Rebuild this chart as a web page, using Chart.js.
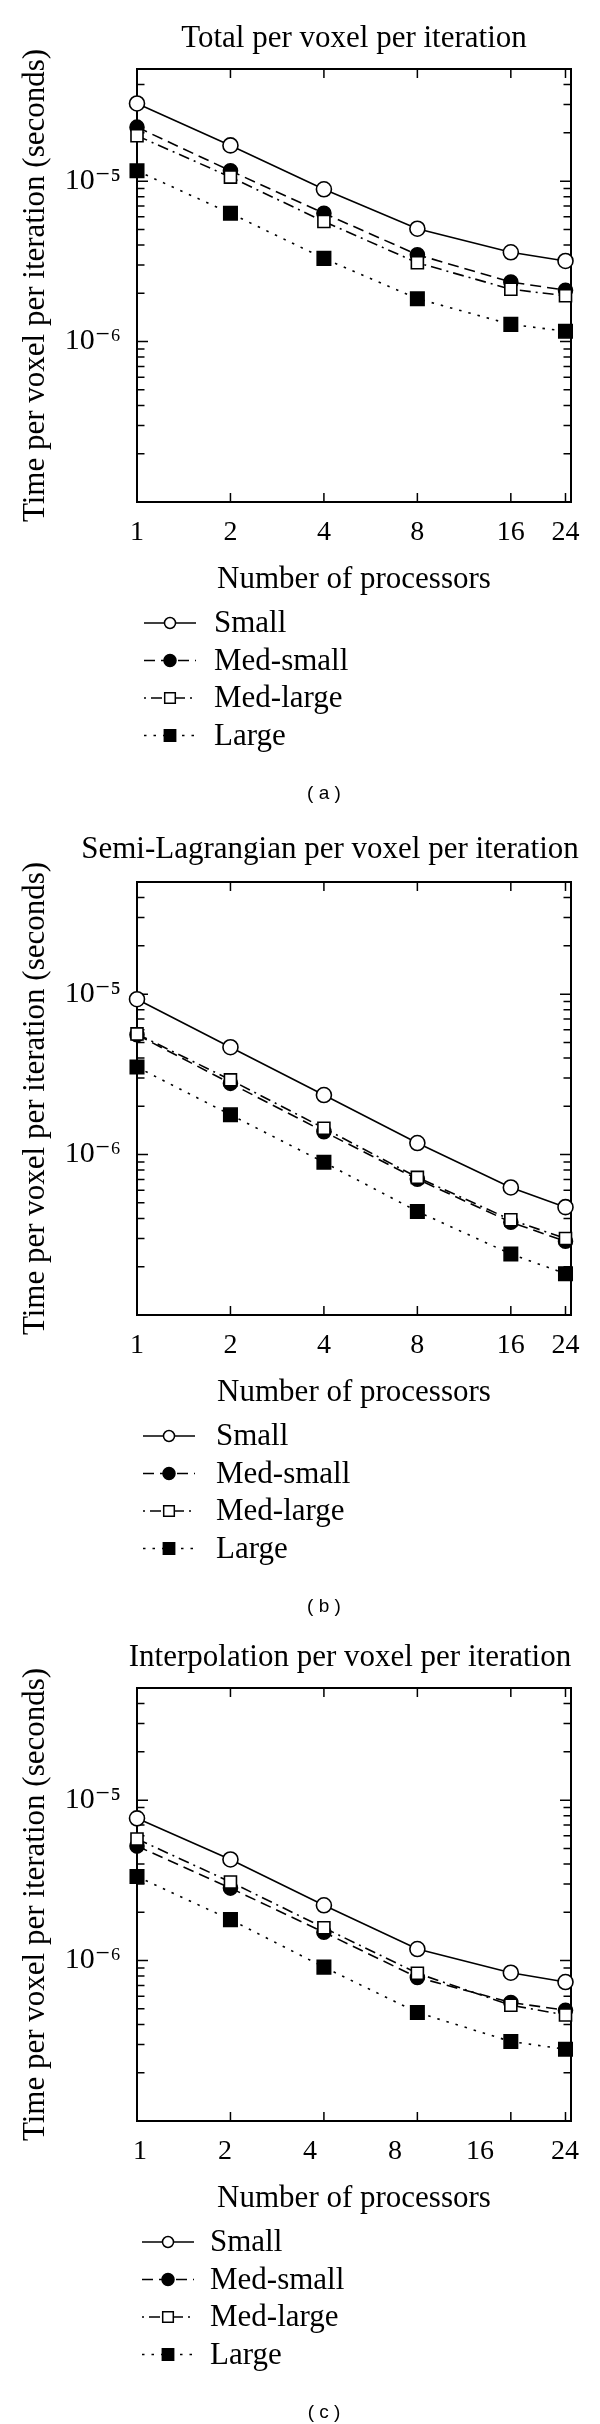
<!DOCTYPE html>
<html><head><meta charset="utf-8">
<script src="https://cdn.jsdelivr.net/npm/chart.js@4.4.1/dist/chart.umd.min.js"></script>
<style>
html,body{margin:0;padding:0;background:#fff;}
body{width:600px;height:2424px;position:relative;overflow:hidden;font-family:"Liberation Serif","DejaVu Serif",serif;color:#000;}
.panel{position:absolute;left:0;width:600px;height:805px;}
.panel canvas{position:absolute;left:0;top:0;}
.ttl{position:absolute;top:21px;font-size:31px;line-height:31px;white-space:nowrap;transform:translateX(-50%);}
.cap{position:absolute;font-family:"Liberation Sans",Arial,sans-serif;font-size:19px;line-height:19px;white-space:pre;transform:translate(-50%,-50%);}
</style></head>
<body>
<div class="panel" style="top:0px"><canvas id="ca" width="600" height="805"></canvas>
  <div class="ttl" style="left:354px">Total per voxel per iteration</div>
  <div class="cap" style="left:324px;top:792px">( a )</div></div>
<div class="panel" style="top:813px"><canvas id="cb" width="600" height="805"></canvas>
  <div class="ttl" style="left:330px;top:19px">Semi-Lagrangian per voxel per iteration</div>
  <div class="cap" style="left:324px;top:792px">( b )</div></div>
<div class="panel" style="top:1619px"><canvas id="cc" width="600" height="805"></canvas>
  <div class="ttl" style="left:350px">Interpolation per voxel per iteration</div>
  <div class="cap" style="left:324px;top:792px">( c )</div></div>
<script>
// ---------- data ----------
const procs = [1, 2, 4, 8, 16, 24];
const xTickLabels = ['1', '2', '4', '8', '16', '24'];
const yMajor = [1e-6, 1e-5];
const yMajorLabels = ['10\u207B\u2076', '10\u207B\u2075'];
const seriesNames = ['Small', 'Med-small', 'Med-large', 'Large'];

// (a) Total per voxel per iteration
const totalSmall    = [3.05e-5, 1.67e-5, 8.9e-6, 5.05e-6, 3.6e-6, 3.18e-6];
const totalMedSmall = [2.17e-5, 1.16e-5, 6.3e-6, 3.48e-6, 2.35e-6, 2.09e-6];
const totalMedLarge = [1.92e-5, 1.06e-5, 5.6e-6, 3.1e-6, 2.12e-6, 1.93e-6];
const totalLarge    = [1.16e-5, 6.3e-6, 3.3e-6, 1.85e-6, 1.28e-6, 1.16e-6];

// (b) Semi-Lagrangian per voxel per iteration
const slSmall    = [9.3e-6, 4.67e-6, 2.35e-6, 1.18e-6, 6.24e-7, 4.7e-7];
const slMedSmall = [5.58e-6, 2.78e-6, 1.39e-6, 7.03e-7, 3.79e-7, 2.88e-7];
const slMedLarge = [5.65e-6, 2.92e-6, 1.46e-6, 7.21e-7, 3.92e-7, 3.0e-7];
const slLarge    = [3.51e-6, 1.77e-6, 8.95e-7, 4.42e-7, 2.4e-7, 1.81e-7];

// (c) Interpolation per voxel per iteration
const inSmall    = [7.7e-6, 4.27e-6, 2.21e-6, 1.18e-6, 8.4e-7, 7.35e-7];
const inMedSmall = [5.17e-6, 2.83e-6, 1.5e-6, 7.85e-7, 5.48e-7, 4.9e-7];
const inMedLarge = [5.73e-6, 3.09e-6, 1.6e-6, 8.33e-7, 5.27e-7, 4.58e-7];
const inLarge    = [3.34e-6, 1.8e-6, 9.1e-7, 4.75e-7, 3.13e-7, 2.8e-7];

// ---------- styles ----------
const FAMILY = '"Liberation Serif", "DejaVu Serif", serif';
const styles = [
  {dash: [], dashOffset: 0, pt: 'circle', r: 7.5, fill: '#fff', lr: 5.5, order: 1},
  {dash: [11, 6], dashOffset: 0, pt: 'circle', r: 7, fill: '#000', lr: 6, order: 3},
  {dash: [11, 5, 2, 5], dashOffset: 16, pt: 'rect', r: 8.5, fill: '#fff', lr: 7.5, order: 2},
  {dash: [2.5, 7], dashOffset: 0, pt: 'rect', r: 9.5, fill: '#000', lr: 8, order: 4}
];
const Y_MIN = 1e-7, Y_MAX = 5e-5;
const yMinor = [];
for (let e = -7; e <= -5; e++) {
  for (let n = 1; n <= 9; n++) {
    const v = Number((n * Math.pow(10, e)).toPrecision(3));
    if (v >= Y_MIN && v <= Y_MAX) yMinor.push({v: v, major: n === 1});
  }
}

const framePlugin = {
  id: 'frameTicks',
  beforeDatasetsDraw(chart) {
    const {ctx, chartArea: a, scales} = chart;
    const xs = scales.x, ys = scales.y;
    ctx.save();
    ctx.strokeStyle = '#000';
    ctx.lineWidth = 1.5;
    ctx.beginPath();
    procs.forEach(v => {
      const px = xs.getPixelForValue(v);
      ctx.moveTo(px, a.bottom); ctx.lineTo(px, a.bottom - 9);
      ctx.moveTo(px, a.top); ctx.lineTo(px, a.top + 9);
    });
    yMinor.forEach(t => {
      const py = ys.getPixelForValue(t.v);
      const L = t.major ? 11 : 7.5;
      ctx.moveTo(a.left, py); ctx.lineTo(a.left + L, py);
      ctx.moveTo(a.right, py); ctx.lineTo(a.right - L, py);
    });
    ctx.stroke();
    ctx.lineWidth = 2;
    ctx.strokeRect(a.left, a.top, a.right - a.left, a.bottom - a.top);
    ctx.restore();
  }
};

const legendPlugin = {
  id: 'stackLegend',
  afterDraw(chart, args, o) {
    const ctx = chart.ctx;
    ctx.save();
    chart.data.datasets.forEach((ds, i) => {
      const st = styles[i];
      const y = o.top + i * o.gap;
      ctx.strokeStyle = '#000';
      ctx.lineWidth = ds.borderWidth;
      ctx.setLineDash(ds.borderDash);
      ctx.lineDashOffset = st.dashOffset;
      ctx.beginPath(); ctx.moveTo(o.x0, y); ctx.lineTo(o.x1, y); ctx.stroke();
      ctx.setLineDash([]);
      ctx.fillStyle = ds.pointBackgroundColor;
      ctx.strokeStyle = '#000';
      ctx.lineWidth = 1.5;
      Chart.helpers.drawPoint(ctx, {pointStyle: ds.pointStyle, radius: st.lr, borderWidth: 1.5, rotation: 0}, (o.x0 + o.x1) / 2, y);
      ctx.fillStyle = '#000';
      ctx.font = '31px ' + FAMILY;
      ctx.textBaseline = 'middle';
      ctx.textAlign = 'left';
      ctx.fillText(ds.label, o.textX, y + 1);
    });
    ctx.restore();
  }
};

function makeChart(id, series, cfg) {
  const datasets = seriesNames.map((name, i) => ({
    label: name,
    data: procs.map((p, j) => ({x: p, y: series[i][j]})),
    borderColor: '#000',
    borderWidth: 1.6,
    borderDash: styles[i].dash,
    pointStyle: styles[i].pt,
    pointRadius: styles[i].r,
    pointBackgroundColor: styles[i].fill,
    pointBorderColor: '#000',
    pointBorderWidth: 1.6,
    tension: 0,
    fill: false,
    clip: false,
    order: styles[i].order
  }));
  const tickFont = {family: FAMILY, size: 28};
  const yTickFont = {family: FAMILY, size: 30};
  const labelFont = {family: FAMILY, size: 31};
  const xTitle = {display: true, text: 'Number of processors', font: labelFont, color: '#000', padding: {top: 0, bottom: 1}};
  const scales = {
    x: {
      type: 'logarithmic', min: 1, max: 25, position: 'bottom',
      display: !cfg.evenLabels,
      grid: {display: false, drawTicks: false}, border: {display: false},
      afterBuildTicks: s => { s.ticks = procs.map(v => ({value: v})); },
      ticks: {callback: (v, i) => xTickLabels[i], font: tickFont, color: '#000', padding: 14, maxRotation: 0, minRotation: 0, autoSkip: false},
      title: xTitle
    },
    y: {
      type: 'logarithmic', min: Y_MIN, max: Y_MAX, position: 'left',
      grid: {display: false, drawTicks: false}, border: {display: false},
      afterBuildTicks: s => { s.ticks = yMajor.map(v => ({value: v})); },
      ticks: {callback: (v, i) => yMajorLabels[i], font: yTickFont, color: '#000', padding: 16, autoSkip: false},
      title: {display: true, text: 'Time per voxel per iteration (seconds)', font: labelFont, color: '#000', padding: {top: 17.5, bottom: 0}},
      afterFit: s => { s.width = 137; }
    }
  };
  if (cfg.evenLabels) {
    scales.x2 = {
      type: 'linear', axis: 'x', position: 'bottom', min: -0.035, max: 5.07,
      grid: {display: false, drawTicks: false}, border: {display: false},
      afterBuildTicks: s => { s.ticks = xTickLabels.map((_, i) => ({value: i})); },
      ticks: {callback: (v, i) => xTickLabels[i], font: tickFont, color: '#000', padding: 14, maxRotation: 0, minRotation: 0, autoSkip: false},
      title: xTitle,
      afterFit: s => { s.height = 97; }
    };
  } else {
    scales.x.afterFit = s => { s.height = 97; };
  }
  return new Chart(document.getElementById(id), {
    type: 'line',
    data: {datasets: datasets},
    options: {
      responsive: false,
      animation: false,
      layout: {padding: {top: 69, right: 29, bottom: 206, left: 0}},
      scales: scales,
      plugins: {
        legend: {display: false},
        tooltip: {enabled: false},
        title: {display: false},
        stackLegend: {x0: cfg.lx0, x1: cfg.lx1, textX: cfg.tx, top: 623, gap: 37.5}
      }
    },
    plugins: [framePlugin, legendPlugin]
  });
}

Chart.defaults.color = '#000';
makeChart('ca', [totalSmall, totalMedSmall, totalMedLarge, totalLarge], {lx0: 144, lx1: 196, tx: 214});
makeChart('cb', [slSmall, slMedSmall, slMedLarge, slLarge], {lx0: 143, lx1: 195, tx: 216});
makeChart('cc', [inSmall, inMedSmall, inMedLarge, inLarge], {lx0: 142, lx1: 194, tx: 210, evenLabels: true});
</script>
</body></html>
